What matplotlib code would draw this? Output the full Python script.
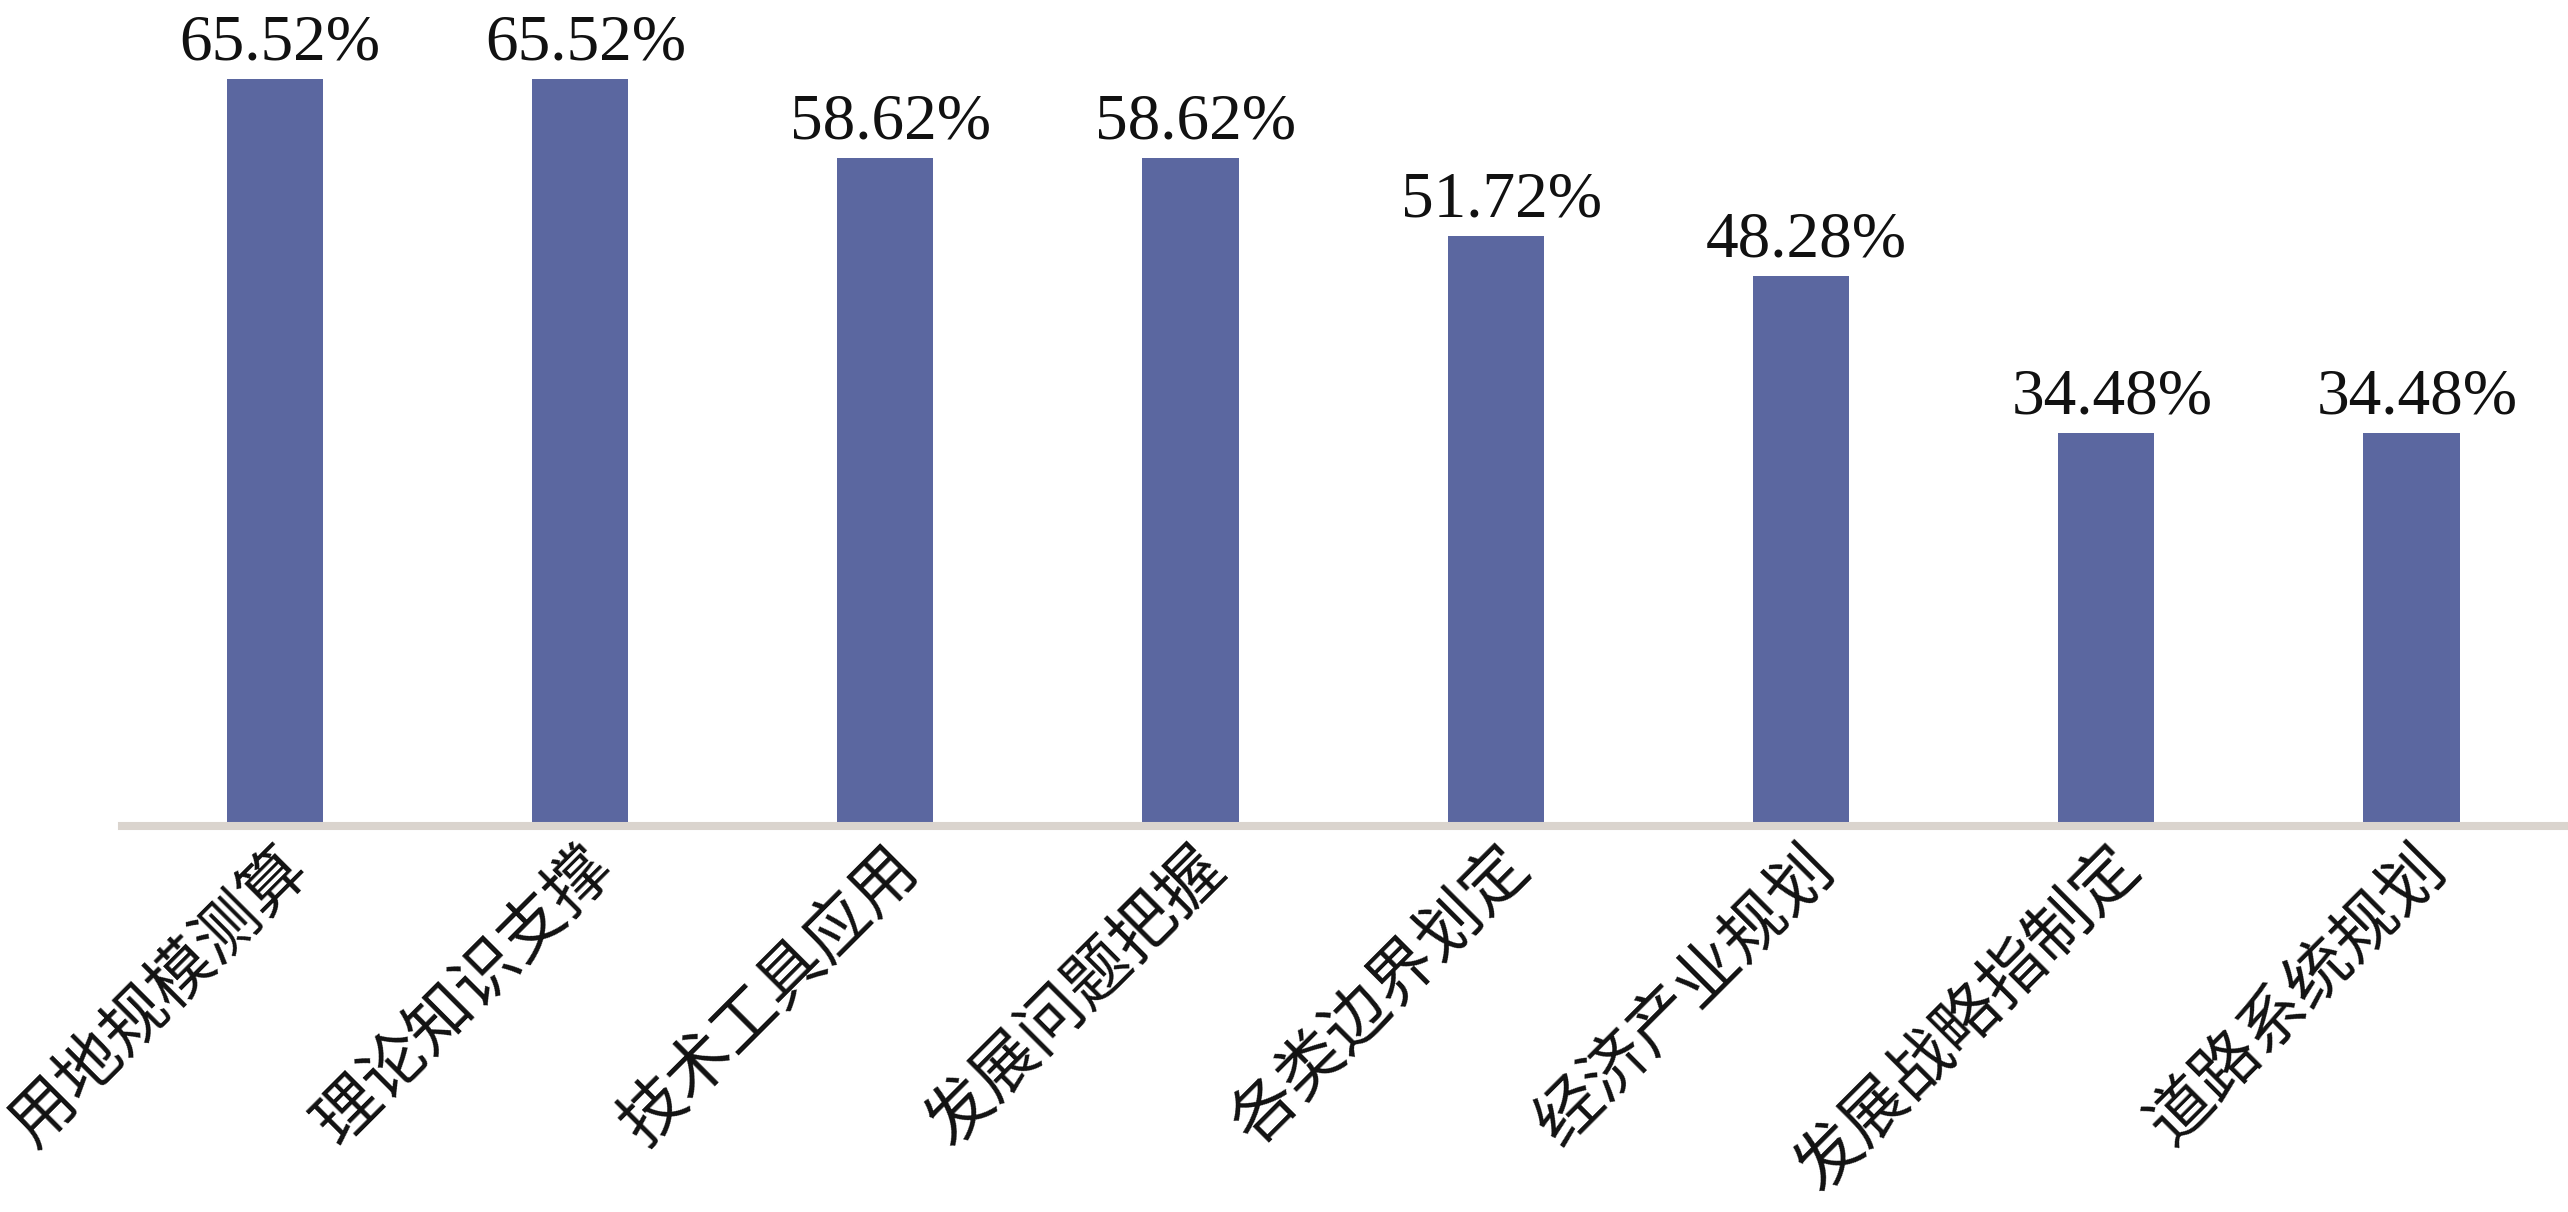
import matplotlib
matplotlib.use('Agg')
import matplotlib.pyplot as plt

'''
Data
'''
categories = ['用地规模测算', '理论知识支撑', '技术工具应用', '发展问题把握',
              '各类边界划定', '经济产业规划', '发展战略指制定', '道路系统规划']
values = [65.52, 65.52, 58.62, 58.62, 51.72, 48.28, 34.48, 34.48]
value_labels = ['65.52%', '65.52%', '58.62%', '58.62%', '51.72%', '48.28%', '34.48%', '34.48%']

bar_color = '#5B67A0'
axis_color = '#DAD4CE'

'''
Figure
'''
fig = plt.figure(figsize=(25.68, 12.12), dpi=100)
ax = fig.add_axes([0.0475, 0.3185, 0.951, 0.6815])

x = list(range(len(categories)))
bars = ax.bar(x, values, width=0.315, color=bar_color, zorder=1)

for rect, lab in zip(bars, value_labels):
    ax.annotate(lab, (rect.get_x() + rect.get_width() / 2, rect.get_height()),
                xytext=(4, 4), textcoords='offset points',
                ha='center', va='bottom', fontsize=47,
                family='Liberation Serif', color='#111111')

ax.set_xlim(-0.5, 7.5)
ax.set_ylim(0, 72.46)

for s in ['top', 'right', 'left']:
    ax.spines[s].set_visible(False)
ax.spines['bottom'].set_color(axis_color)
ax.spines['bottom'].set_linewidth(5.8)
ax.set_yticks([])

ax.set_xticks(x)
ax.set_xticklabels(categories, rotation=45, ha='right', va='top',
                   rotation_mode='anchor', fontsize=47,
                   family=['Noto Sans CJK SC', 'DejaVu Sans'], color='#111111')
ax.tick_params(axis='x', length=0, pad=6)

fig.savefig('out.png', dpi=100, facecolor='white')
